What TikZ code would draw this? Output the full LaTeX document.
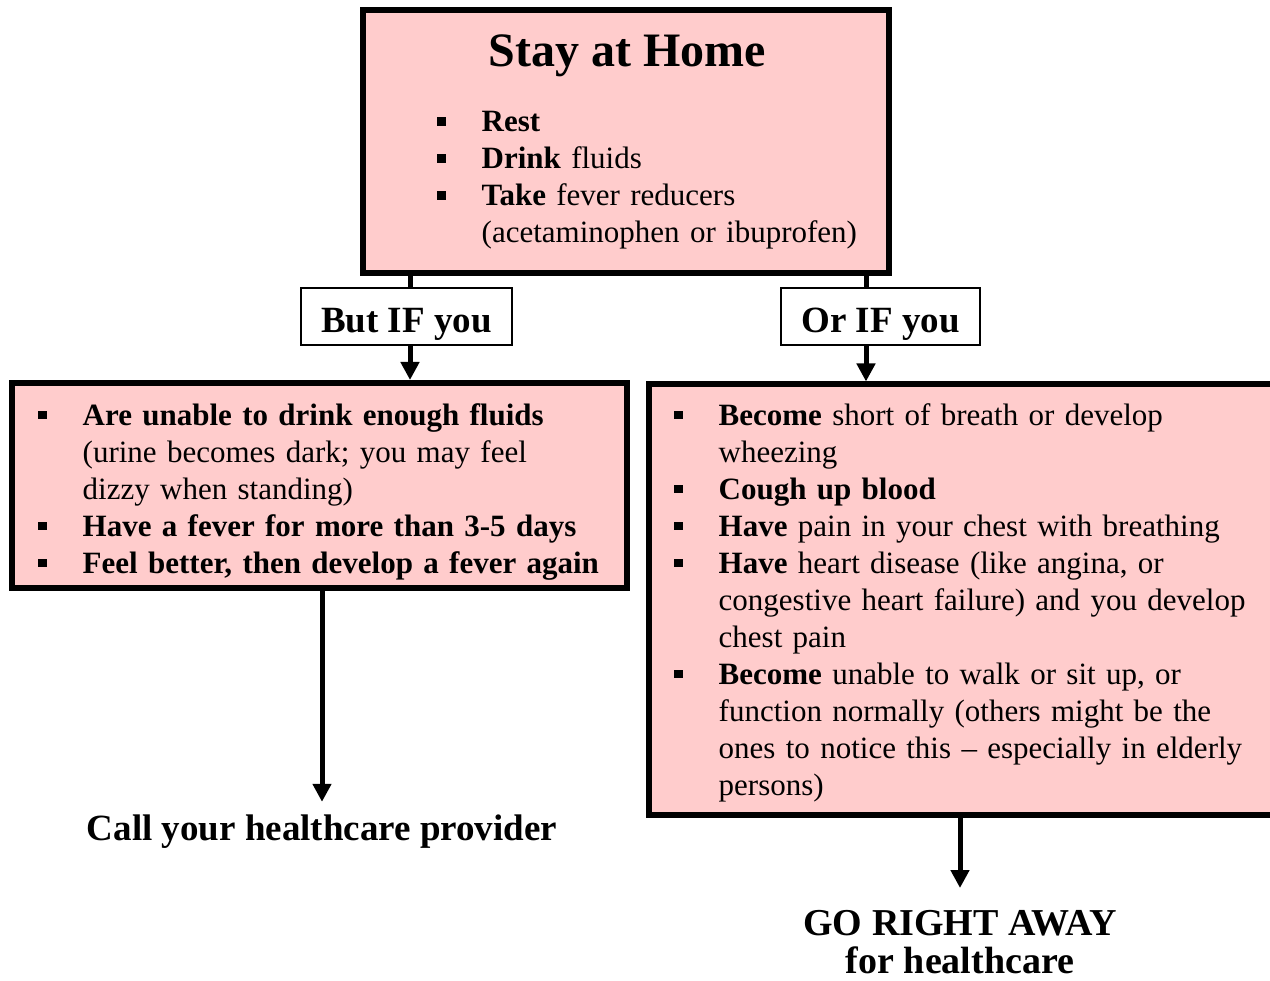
\documentclass[tikz,border=0pt]{standalone}
\usepackage{fontspec}
\setmainfont{Liberation Serif}
\usetikzlibrary{arrows.meta}
\definecolor{rosy}{HTML}{FFCCCC}
\newcommand{\sqmark}{\raisebox{6pt}{\rule{8.5pt}{8.5pt}}}
\newcommand{\sqhead}{\hangindent=44.5pt\hangafter=1\makebox[44.5pt][l]{\sqmark}\strut}
\newcommand{\sqitem}{\par\noindent\sqhead}

\begin{document}
\begin{tikzpicture}[x=1pt,y=-1pt]
	\tikzset{pinkbox/.style={rectangle, draw=black, fill=rosy, line width=6pt, inner sep=0pt}};
	\tikzset{ifbox/.style={rectangle, draw=black, fill=white, line width=1.5pt, minimum height=57pt, text height=33pt, text depth=0pt, font=\fontsize{37}{40}\selectfont\bfseries}};
	\tikzset{body/.style={anchor=north west, inner sep=0pt, align=left, font=\fontsize{31}{37}\selectfont}};
	\tikzset{link/.style={line width=5pt}};
	\tikzset{pointer/.style={line width=5pt, -{Triangle[width=18pt,length=18pt]}}};

	\useasboundingbox (0,0) rectangle (1270,981);

	\node[pinkbox, minimum width=526pt, minimum height=263pt] (H) at (626,141.5) {};
	\node[pinkbox, minimum width=615pt, minimum height=205pt] (L) at (319.5,485.5) {};
	\node[pinkbox, minimum width=641pt, minimum height=430.5pt] (R) at (969.5,599.75) {};
	\node[ifbox, minimum width=211pt] (B) at (406.5,316.5) {But IF you};
	\node[ifbox, minimum width=199pt] (O) at (880.5,316.5) {Or IF you};

	% home box
	\node[anchor=base, inner sep=0pt, font=\fontsize{48}{50}\selectfont\bfseries] (T) at (627,67) {Stay at Home};
	\node[body, text width=480pt] (HT) at (437,105.8) {\noindent\sqhead\textbf{Rest}
		\sqitem\textbf{Drink} fluids
		\sqitem\textbf{Take} fever reducers\newline(acetaminophen or ibuprofen)\par};

	% left box
	\node[body, text width=580pt] (LT) at (38,399.1) {\noindent\sqhead\textbf{Are unable to drink enough fluids}\newline(urine becomes dark; you may feel\newline dizzy when standing)
		\sqitem\textbf{Have a fever for more than 3-5 days}
		\sqitem\textbf{Feel better, then develop a fever again}\par};

	% right box
	\node[body, text width=580pt] (RT) at (674,399.1) {\noindent\sqhead\textbf{Become} short of breath or develop\newline wheezing
		\sqitem\textbf{Cough up blood}
		\sqitem\textbf{Have} pain in your chest with breathing
		\sqitem\textbf{Have} heart disease (like angina, or\newline congestive heart failure) and you develop\newline chest pain
		\sqitem\textbf{Become} unable to walk or sit up, or\newline function normally (others might be the\newline ones to notice this -- especially in elderly\newline persons)\par};

	\node[anchor=base, inner sep=0pt, text height=38pt, font=\fontsize{37}{40}\selectfont\bfseries] (C) at (322,840) {Call your healthcare provider};
	\node[anchor=north, inner sep=0pt, align=center, font=\fontsize{38}{38}\selectfont\bfseries] (G) at (960,888) {\rule{0pt}{47pt}GO RIGHT AWAY\\for healthcare};

	\coordinate (b1) at ([xshift=3.5pt]B.north);
	\coordinate (o1) at ([xshift=-14.5pt]O.north);

	\draw[link] (H.south -| b1) -- (b1);
	\draw[pointer] (B.south -| b1) -- (L.north -| b1);
	\draw[link] (H.south -| o1) -- (o1);
	\draw[pointer] (O.south -| o1) -- (R.north -| o1);
	\draw[pointer] (L.south -| C.north) -- (C.north);
	\draw[pointer] (R.south -| G.north) -- (G.north);
\end{tikzpicture}
\end{document}
